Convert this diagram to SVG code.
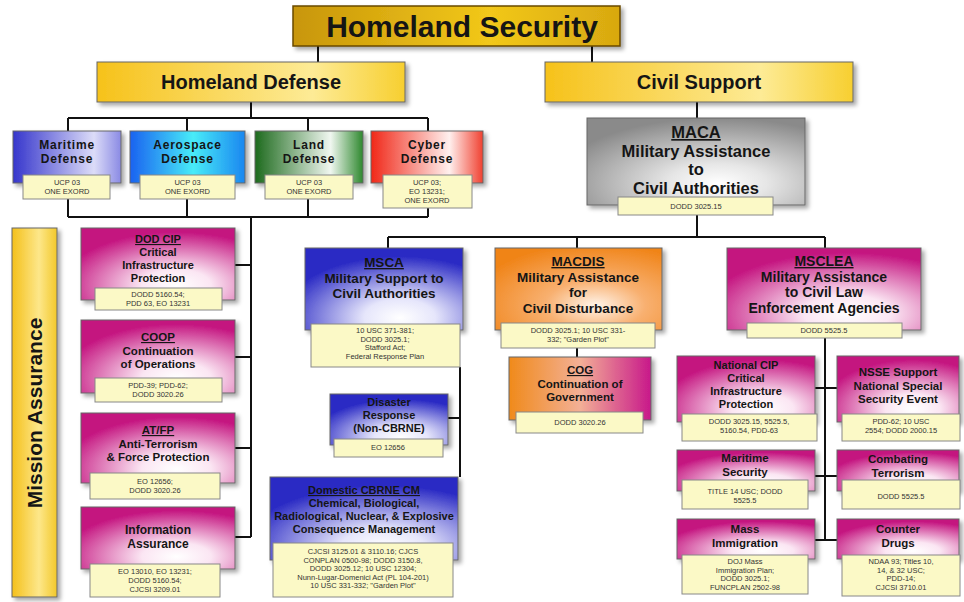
<svg xmlns="http://www.w3.org/2000/svg" width="964" height="602" viewBox="0 0 964 602">
<style>
.t{font-family:"Liberation Sans",Arial,sans-serif;font-weight:bold;text-anchor:middle;fill:#151515}
.s{font-family:"Liberation Sans",Arial,sans-serif;font-size:7.5px;text-anchor:middle;fill:#333}
.u{text-decoration:underline}
.box{stroke:#666;stroke-width:1}
.lbl{fill:#fbf9c6;stroke:#888;stroke-width:1}
.ln{stroke:#111;stroke-width:2;fill:none}
</style>
<defs>
<filter id="sh" x="-10%" y="-10%" width="130%" height="130%"><feDropShadow dx="3" dy="3" stdDeviation="2" flood-color="#000" flood-opacity="0.35"/></filter>
<linearGradient id="gold" x1="0" y1="0" x2="1" y2="0"><stop offset="0" stop-color="#c8960a"/><stop offset="0.6" stop-color="#f2c81a"/><stop offset="1" stop-color="#d8a810"/></linearGradient>
<linearGradient id="yel" x1="0" y1="0" x2="1" y2="0"><stop offset="0" stop-color="#f6c21a"/><stop offset="0.7" stop-color="#fdeb96"/><stop offset="1" stop-color="#f7cf30"/></linearGradient>
<linearGradient id="yelv" x1="0" y1="0" x2="1" y2="0"><stop offset="0" stop-color="#f4c01a"/><stop offset="0.6" stop-color="#fde78a"/><stop offset="1" stop-color="#f2c82a"/></linearGradient>
<linearGradient id="blu" x1="0" y1="0" x2="1" y2="0"><stop offset="0" stop-color="#3636cc"/><stop offset="0.75" stop-color="#dcdcf8"/><stop offset="1" stop-color="#8a8ae4"/></linearGradient>
<linearGradient id="aer" x1="0" y1="0" x2="1" y2="0"><stop offset="0" stop-color="#1a62f0"/><stop offset="0.55" stop-color="#48ecf8"/><stop offset="1" stop-color="#1a86f0"/></linearGradient>
<linearGradient id="grn" x1="0" y1="0" x2="1" y2="0"><stop offset="0" stop-color="#1d6a1d"/><stop offset="0.7" stop-color="#f0f7f0"/><stop offset="1" stop-color="#2e882e"/></linearGradient>
<linearGradient id="red" x1="0" y1="0" x2="1" y2="0"><stop offset="0" stop-color="#f02818"/><stop offset="0.7" stop-color="#fff0ee"/><stop offset="1" stop-color="#f04030"/></linearGradient>
<radialGradient id="pnk" cx="0.62" cy="0.8" r="0.75"><stop offset="0" stop-color="#ffffff"/><stop offset="0.3" stop-color="#fbe6f3"/><stop offset="1" stop-color="#c4137f"/></radialGradient>
<radialGradient id="mb" cx="0.6" cy="0.85" r="0.75"><stop offset="0" stop-color="#ffffff"/><stop offset="0.3" stop-color="#e6e6fb"/><stop offset="1" stop-color="#2a2ac4"/></radialGradient>
<radialGradient id="org" cx="0.6" cy="0.7" r="0.75"><stop offset="0" stop-color="#fff4ea"/><stop offset="0.4" stop-color="#f8b070"/><stop offset="1" stop-color="#f08418"/></radialGradient>
<linearGradient id="cog" x1="0" y1="0" x2="1" y2="0"><stop offset="0" stop-color="#f08a1a"/><stop offset="0.5" stop-color="#f3b096"/><stop offset="1" stop-color="#c8188a"/></linearGradient>
<radialGradient id="gry" cx="0.6" cy="0.75" r="0.75"><stop offset="0" stop-color="#ffffff"/><stop offset="0.3" stop-color="#e6e6e6"/><stop offset="1" stop-color="#8a8a8a"/></radialGradient>
</defs>
<rect width="964" height="602" fill="#fff"/>
<g id="connectors" class="ln">
<path d="M318 46V62M592 46V62"/>
<path d="M251 102V118M68 118H428M68 118V131M187 118V131M308 118V131M428 118V131"/>
<path d="M68 199V217M187 199V217M308 199V217M428 208V217M68 217H428M251 217V537"/>
<path d="M235 265H251M235 357H251M235 448H251M235 537H251"/>
<path d="M697 102V118M697 215V237M388 237H825M388 237V248M577 237V248M825 237V248"/>
<path d="M460 367V477M448 418H460"/>
<path d="M577 348V357"/>
<path d="M825 338V540M815 388H837M815 476H837M815 540H837"/>
</g>
<g id="homeland-security"><rect x="293" y="6" width="327" height="40" fill="url(#gold)" stroke="#6a4a00" stroke-width="1.5" filter="url(#sh)"/><text class="t" x="462" y="37" font-size="30">Homeland Security</text></g>
<g id="homeland-defense"><rect x="97" y="62" width="308" height="40" fill="url(#yel)" class="box" filter="url(#sh)"/><text class="t" x="251" y="89" font-size="20">Homeland Defense</text></g>
<g id="civil-support"><rect x="545" y="62" width="308" height="40" fill="url(#yel)" class="box" filter="url(#sh)"/><text class="t" x="699" y="89" font-size="20">Civil Support</text></g>

<g id="maritime-defense"><rect x="13" y="131" width="108" height="52" fill="url(#blu)" class="box" filter="url(#sh)"/><text class="t" x="67" y="149" font-size="12" letter-spacing="0.8">Maritime</text><text class="t" x="67" y="163" font-size="12" letter-spacing="0.8">Defense</text><rect class="lbl" x="23" y="175" width="87" height="24"/><text class="s" x="67" y="185">UCP 03</text><text class="s" x="67" y="194">ONE EXORD</text></g>
<g id="aerospace-defense"><rect x="130" y="131" width="115" height="52" fill="url(#aer)" class="box" filter="url(#sh)"/><text class="t" x="187.5" y="149" font-size="12" letter-spacing="0.8">Aerospace</text><text class="t" x="187.5" y="163" font-size="12" letter-spacing="0.8">Defense</text><rect class="lbl" x="140" y="175" width="95" height="24"/><text class="s" x="187.5" y="185">UCP 03</text><text class="s" x="187.5" y="194">ONE EXORD</text></g>
<g id="land-defense"><rect x="255" y="131" width="108" height="52" fill="url(#grn)" class="box" filter="url(#sh)"/><text class="t" x="309" y="149" font-size="12" letter-spacing="0.8">Land</text><text class="t" x="309" y="163" font-size="12" letter-spacing="0.8">Defense</text><rect class="lbl" x="265" y="175" width="88" height="24"/><text class="s" x="309" y="185">UCP 03</text><text class="s" x="309" y="194">ONE EXORD</text></g>
<g id="cyber-defense"><rect x="371" y="131" width="112" height="52" fill="url(#red)" class="box" filter="url(#sh)"/><text class="t" x="427" y="149" font-size="12" letter-spacing="0.8">Cyber</text><text class="t" x="427" y="163" font-size="12" letter-spacing="0.8">Defense</text><rect class="lbl" x="383" y="175" width="89" height="33"/><text class="s" x="427" y="185">UCP 03;</text><text class="s" x="427" y="194">EO 13231;</text><text class="s" x="427" y="203">ONE EXORD</text></g>

<g id="mission-assurance"><rect x="12" y="228" width="45" height="369" fill="url(#yelv)" class="box" filter="url(#sh)"/><text class="t" font-size="21" transform="translate(42 413) rotate(-90)">Mission Assurance</text></g>

<g id="dod-cip"><rect x="81" y="228" width="154" height="72" fill="url(#pnk)" class="box" filter="url(#sh)"/><text class="t u" x="158" y="243" font-size="11">DOD CIP</text><text class="t" x="158" y="256" font-size="11">Critical</text><text class="t" x="158" y="269" font-size="11">Infrastructure</text><text class="t" x="158" y="282" font-size="11">Protection</text><rect class="lbl" x="95" y="288" width="127" height="22"/><text class="s" x="158" y="297">DODD 5160.54;</text><text class="s" x="158" y="306">PDD 63, EO 13231</text></g>
<g id="coop"><rect x="81" y="320" width="154" height="73" fill="url(#pnk)" class="box" filter="url(#sh)"/><text class="t u" x="158" y="341" font-size="11.5">COOP</text><text class="t" x="158" y="354.5" font-size="11.5">Continuation</text><text class="t" x="158" y="368" font-size="11.5">of Operations</text><rect class="lbl" x="95" y="378" width="127" height="24"/><text class="s" x="158" y="388">PDD-39; PDD-62;</text><text class="s" x="158" y="397">DODD 3020.26</text></g>
<g id="at-fp"><rect x="81" y="413" width="154" height="70" fill="url(#pnk)" class="box" filter="url(#sh)"/><text class="t u" x="158" y="434" font-size="11.5">AT/FP</text><text class="t" x="158" y="447.5" font-size="11.5">Anti-Terrorism</text><text class="t" x="158" y="461" font-size="11.5">&amp; Force Protection</text><rect class="lbl" x="90" y="473" width="130" height="26"/><text class="s" x="155" y="484">EO 12656;</text><text class="s" x="155" y="493">DODD 3020.26</text></g>
<g id="information-assurance"><rect x="81" y="507" width="154" height="62" fill="url(#pnk)" class="box" filter="url(#sh)"/><text class="t" x="158" y="534" font-size="12">Information</text><text class="t" x="158" y="548" font-size="12">Assurance</text><rect class="lbl" x="90" y="564" width="130" height="33"/><text class="s" x="155" y="574">EO 13010, EO 13231;</text><text class="s" x="155" y="583">DODD 5160.54;</text><text class="s" x="155" y="592">CJCSI 3209.01</text></g>

<g id="maca"><rect x="587" y="118" width="218" height="87" fill="url(#gry)" class="box" filter="url(#sh)"/><text class="t u" x="696" y="138" font-size="16.5">MACA</text><text class="t" x="696" y="156.5" font-size="16.5">Military Assistance</text><text class="t" x="696" y="175" font-size="16.5">to</text><text class="t" x="696" y="193.5" font-size="16.5">Civil Authorities</text><rect class="lbl" x="618" y="197" width="155" height="18"/><text class="s" x="696" y="209">DODD 3025.15</text></g>

<g id="msca"><rect x="305" y="248" width="158" height="82" fill="url(#mb)" class="box" filter="url(#sh)"/><text class="t u" x="384" y="267" font-size="13.5">MSCA</text><text class="t" x="384" y="282.5" font-size="13.5">Military Support to</text><text class="t" x="384" y="298" font-size="13.5">Civil Authorities</text><rect class="lbl" x="311" y="324" width="149" height="43"/><text class="s" x="385" y="333">10 USC 371-381;</text><text class="s" x="385" y="341.5">DODD 3025.1;</text><text class="s" x="385" y="350">Stafford Act;</text><text class="s" x="385" y="358.5">Federal Response Plan</text></g>
<g id="disaster-response"><rect x="330" y="394" width="118" height="51" fill="url(#mb)" class="box" filter="url(#sh)"/><text class="t" x="389" y="406" font-size="11">Disaster</text><text class="t" x="389" y="419" font-size="11">Response</text><text class="t" x="389" y="432" font-size="11">(Non-CBRNE)</text><rect class="lbl" x="334" y="439" width="109" height="18"/><text class="s" x="388" y="450">EO 12656</text></g>
<g id="domestic-cbrne-cm"><rect x="270" y="477" width="188" height="83" fill="url(#mb)" class="box" filter="url(#sh)"/><text class="t u" x="364" y="494" font-size="11">Domestic CBRNE CM</text><text class="t" x="364" y="507" font-size="11">Chemical, Biological,</text><text class="t" x="364" y="520" font-size="11">Radiological, Nuclear, &amp; Explosive</text><text class="t" x="364" y="533" font-size="11">Consequence Management</text><rect class="lbl" x="273" y="543" width="180" height="54"/><text class="s" x="363" y="554">CJCSI 3125.01 &amp; 3110.16; CJCS</text><text class="s" x="363" y="562.5">CONPLAN 0500-98; DODD 3150.8,</text><text class="s" x="363" y="571">DODD 3025.12; 10 USC 12304;</text><text class="s" x="363" y="579.5">Nunn-Lugar-Domenici Act (PL 104-201)</text><text class="s" x="363" y="588">10 USC 331-332; "Garden Plot"</text></g>

<g id="macdis"><rect x="495" y="248" width="167" height="82" fill="url(#org)" class="box" filter="url(#sh)"/><text class="t u" x="578" y="266" font-size="13.5">MACDIS</text><text class="t" x="578" y="281.5" font-size="13.5">Military Assistance</text><text class="t" x="578" y="297" font-size="13.5">for</text><text class="t" x="578" y="312.5" font-size="13.5">Civil Disturbance</text><rect class="lbl" x="501" y="323" width="154" height="25"/><text class="s" x="578" y="333">DODD 3025.1; 10 USC 331-</text><text class="s" x="578" y="342">332; "Garden Plot"</text></g>
<g id="cog"><rect x="509" y="357" width="142" height="63" fill="url(#cog)" class="box" filter="url(#sh)"/><text class="t u" x="580" y="374" font-size="11.5">COG</text><text class="t" x="580" y="387.5" font-size="11.5">Continuation of</text><text class="t" x="580" y="401" font-size="11.5">Government</text><rect class="lbl" x="516" y="412" width="127" height="21"/><text class="s" x="580" y="425">DODD 3020.26</text></g>

<g id="msclea"><rect x="727" y="248" width="194" height="82" fill="url(#pnk)" class="box" filter="url(#sh)"/><text class="t u" x="824" y="266" font-size="14">MSCLEA</text><text class="t" x="824" y="281.5" font-size="14">Military Assistance</text><text class="t" x="824" y="297" font-size="14">to Civil Law</text><text class="t" x="824" y="312.5" font-size="14">Enforcement Agencies</text><rect class="lbl" x="747" y="323" width="155" height="15"/><text class="s" x="824" y="333">DODD 5525.5</text></g>
<g id="national-cip"><rect x="677" y="356" width="138" height="66" fill="url(#pnk)" class="box" filter="url(#sh)"/><text class="t" x="746" y="369" font-size="11">National CIP</text><text class="t" x="746" y="382" font-size="11">Critical</text><text class="t" x="746" y="395" font-size="11">Infrastructure</text><text class="t" x="746" y="408" font-size="11">Protection</text><rect class="lbl" x="682" y="414" width="135" height="27"/><text class="s" x="749" y="424">DODD 3025.15, 5525.5,</text><text class="s" x="749" y="433">5160.54, PDD-63</text></g>
<g id="nsse-support"><rect x="837" y="356" width="122" height="66" fill="url(#pnk)" class="box" filter="url(#sh)"/><text class="t" x="898" y="376" font-size="11.5">NSSE Support</text><text class="t" x="898" y="389.5" font-size="11.5">National Special</text><text class="t" x="898" y="403" font-size="11.5">Security Event</text><rect class="lbl" x="842" y="414" width="118" height="27"/><text class="s" x="901" y="424">PDD-62; 10 USC</text><text class="s" x="901" y="433">2554; DODD 2000.15</text></g>
<g id="maritime-security"><rect x="677" y="450" width="138" height="41" fill="url(#pnk)" class="box" filter="url(#sh)"/><text class="t" x="745" y="462" font-size="11.5">Maritime</text><text class="t" x="745" y="476" font-size="11.5">Security</text><rect class="lbl" x="682" y="480" width="126" height="29"/><text class="s" x="745" y="494">TITLE 14 USC; DODD</text><text class="s" x="745" y="503">5525.5</text></g>
<g id="combating-terrorism"><rect x="837" y="450" width="122" height="41" fill="url(#pnk)" class="box" filter="url(#sh)"/><text class="t" x="898" y="463" font-size="11.5">Combating</text><text class="t" x="898" y="477" font-size="11.5">Terrorism</text><rect class="lbl" x="842" y="480" width="118" height="29"/><text class="s" x="901" y="499">DODD 5525.5</text></g>
<g id="mass-immigration"><rect x="677" y="519" width="138" height="40" fill="url(#pnk)" class="box" filter="url(#sh)"/><text class="t" x="745" y="533" font-size="11.5">Mass</text><text class="t" x="745" y="547" font-size="11.5">Immigration</text><rect class="lbl" x="682" y="555" width="126" height="39"/><text class="s" x="745" y="564">DOJ Mass</text><text class="s" x="745" y="572.5">Immigration Plan;</text><text class="s" x="745" y="581">DODD 3025.1;</text><text class="s" x="745" y="589.5">FUNCPLAN 2502-98</text></g>
<g id="counter-drugs"><rect x="837" y="519" width="122" height="40" fill="url(#pnk)" class="box" filter="url(#sh)"/><text class="t" x="898" y="533" font-size="11.5">Counter</text><text class="t" x="898" y="547" font-size="11.5">Drugs</text><rect class="lbl" x="842" y="555" width="118" height="41"/><text class="s" x="901" y="564">NDAA 93; Titles 10,</text><text class="s" x="901" y="572.5">14, &amp; 32 USC;</text><text class="s" x="901" y="581">PDD-14;</text><text class="s" x="901" y="589.5">CJCSI 3710.01</text></g>
</svg>
